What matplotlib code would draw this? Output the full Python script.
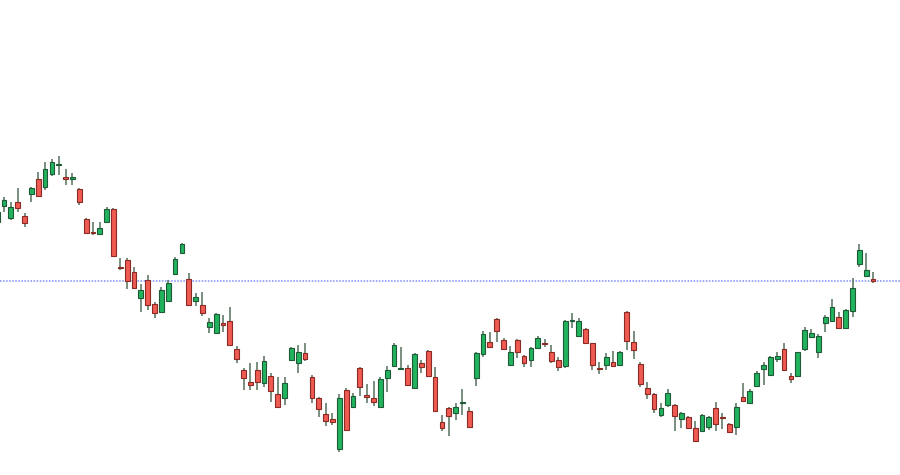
import numpy as np
import matplotlib.pyplot as plt

# OHLC values (arbitrary price units)
opens = [278, 294, 282, 298, 284, 306, 321, 313, 326, 335, 323, 321, 311, 281, 268, 266, 278, 291, 233, 240,
         228, 202, 220, 196, 188, 199, 226, 247, 221, 199, 195, 173, 167, 177, 179, 151, 130, 118, 130, 117,
         124, 106, 102, 140, 137, 147, 123, 102, 86, 81, 51, 110, 93, 132, 105, 102, 93, 122, 134, 131,
         132, 112, 137, 149, 123, 78, 92, 87, 97, 89, 122, 146, 158, 181, 160, 135, 160, 144, 140, 152,
         157, 148, 140, 134, 179, 164, 171, 157, 132, 135, 138, 135, 188, 158, 136, 112, 106, 85, 95, 95,
         81, 83, 72, 69, 73, 92, 83, 76, 73, 103, 97, 114, 131, 125, 141, 151, 124, 124, 151, 163,
         148, 177, 179, 183, 172, 189, 236, 224, 221]
highs = [292, 303, 298, 312, 287, 313, 328, 338, 341, 344, 331, 327, 312, 282, 278, 278, 293, 292, 242, 242,
         233, 216, 225, 198, 213, 220, 243, 257, 227, 207, 208, 182, 187, 185, 193, 154, 132, 137, 138, 144,
         127, 123, 123, 153, 155, 157, 125, 103, 97, 87, 106, 112, 107, 133, 116, 119, 123, 134, 157, 153,
         135, 147, 140, 150, 133, 85, 93, 97, 111, 93, 148, 169, 168, 182, 162, 154, 161, 145, 153, 164,
         161, 155, 143, 180, 187, 182, 172, 157, 138, 147, 149, 149, 189, 169, 138, 118, 107, 97, 111, 96,
         88, 84, 79, 86, 84, 98, 87, 77, 97, 117, 111, 129, 138, 144, 148, 157, 127, 148, 173, 171,
         166, 185, 201, 188, 191, 222, 256, 247, 228]
lows = [272, 288, 280, 288, 273, 298, 303, 310, 324, 325, 315, 315, 295, 266, 265, 265, 277, 243, 230, 211,
        211, 188, 190, 182, 188, 198, 225, 246, 194, 194, 184, 167, 166, 168, 154, 137, 110, 110, 110, 113,
        98, 93, 95, 139, 127, 139, 97, 83, 74, 75, 48, 69, 93, 104, 97, 94, 92, 108, 133, 130,
        114, 111, 127, 123, 88, 69, 64, 80, 85, 72, 114, 143, 152, 158, 150, 134, 142, 133, 133, 151,
        153, 137, 129, 132, 172, 163, 156, 130, 126, 130, 133, 134, 150, 141, 113, 101, 87, 83, 93, 69,
        72, 72, 58, 68, 70, 69, 71, 68, 65, 98, 96, 113, 115, 124, 138, 129, 117, 123, 149, 163,
        142, 168, 178, 172, 172, 183, 233, 224, 217]
closes = [288, 300, 293, 292, 277, 312, 304, 331, 338, 336, 321, 323, 298, 267, 267, 272, 291, 244, 232, 219,
          212, 210, 195, 187, 210, 217, 241, 256, 195, 203, 187, 178, 186, 175, 155, 141, 122, 115, 118, 139,
          109, 93, 117, 152, 148, 141, 102, 91, 79, 78, 102, 70, 104, 113, 103, 98, 121, 130, 155, 132,
          115, 146, 133, 124, 89, 72, 84, 93, 98, 73, 147, 166, 153, 169, 151, 148, 148, 137, 152, 162,
          156, 139, 133, 179, 180, 179, 157, 135, 131, 143, 134, 148, 159, 150, 116, 106, 91, 92, 107, 84,
          87, 72, 59, 85, 83, 76, 82, 68, 93, 99, 109, 127, 135, 143, 144, 130, 121, 148, 170, 167,
          164, 183, 193, 172, 190, 212, 250, 230, 219]

o = np.array(opens)
h = np.array(highs)
l = np.array(lows)
c = np.array(closes)
x = np.arange(len(o))

up = c >= o
green, green_edge = '#22b35e', '#1f5a36'
red, red_edge = '#ef5a52', '#8a2a25'
wick_col = '#55705c'

fig = plt.figure(figsize=(9, 4.75), dpi=100)
ax = fig.add_axes([0, 0, 1, 1])
ax.set_facecolor('white')

# wicks
ax.vlines(x, l, h, color=wick_col, linewidth=1.1, zorder=2)

# bodies
bottom = np.minimum(o, c)
height = np.maximum(np.abs(c - o), 1.2)
ax.bar(x[up], height[up], bottom=bottom[up], width=0.7, color=green,
       edgecolor=green_edge, linewidth=0.8, zorder=3)
ax.bar(x[~up], height[~up], bottom=bottom[~up], width=0.7, color=red,
       edgecolor=red_edge, linewidth=0.8, zorder=3)

# current price line
ax.axhline(closes[-1], color='#7d8cff', linestyle=(0, (1, 1)), linewidth=1.1, zorder=1)

ax.set_xlim(0.415, 131.94)
ax.set_ylim(25, 500)
ax.axis('off')

fig.savefig('out.png', dpi=100, facecolor='white')
